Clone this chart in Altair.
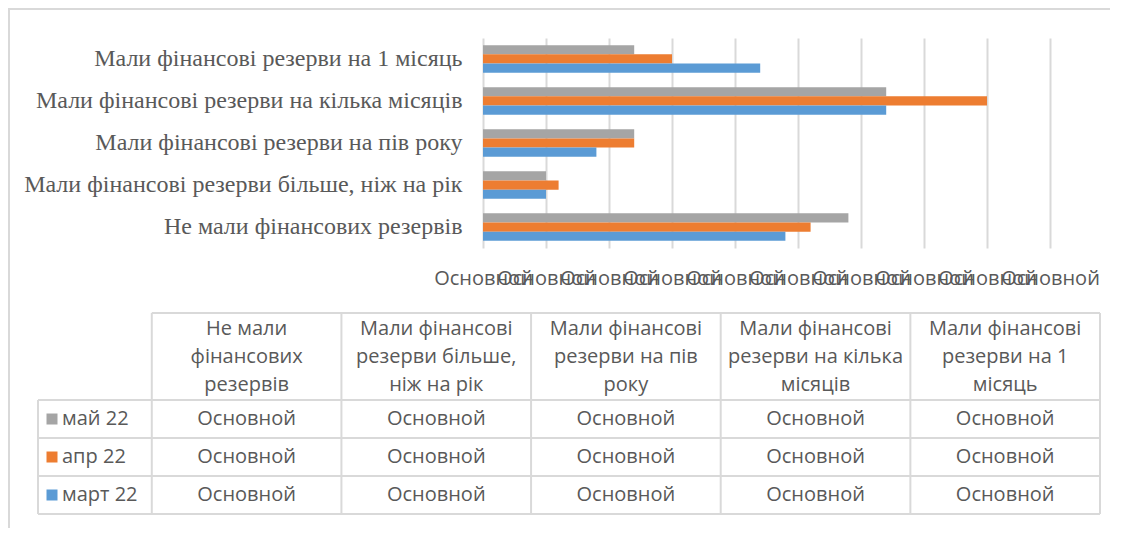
import altair as alt
import pandas as pd

# ---- data ----
categories = [
    "Мали фінансові резерви на 1 місяць",
    "Мали фінансові резерви на кілька місяців",
    "Мали фінансові резерви на пів року",
    "Мали фінансові резерви більше, ніж на рік",
    "Не мали фінансових резервів",
]
series = ["май 22", "апр 22", "март 22"]
may_22 = [12, 32, 12, 5, 29]
apr_22 = [15, 40, 12, 6, 26]
mar_22 = [22, 32, 9, 5, 24]
colors = ["#a5a5a5", "#ed7d31", "#5b9bd5"]
tick_values = [0, 5, 10, 15, 20, 25, 30, 35, 40, 45]
tick_label = "Основной"

# table columns (data-table order) with wrapped headers
table_categories = [
    "Не мали фінансових резервів",
    "Мали фінансові резерви більше, ніж на рік",
    "Мали фінансові резерви на пів року",
    "Мали фінансові резерви на кілька місяців",
    "Мали фінансові резерви на 1 місяць",
]
table_headers = [
    "Не мали\nфінансових\nрезервів",
    "Мали фінансові\nрезерви більше,\nніж на рік",
    "Мали фінансові\nрезерви на пів\nроку",
    "Мали фінансові\nрезерви на кілька\nмісяців",
    "Мали фінансові\nрезерви на 1\nмісяць",
]

TXT = "#595959"
GRID = "#d9d9d9"
SANS = "Open Sans"
SERIF = "Liberation Serif"

rows = []
for s, vals in zip(series, [may_22, apr_22, mar_22]):
    for c, v in zip(categories, vals):
        rows.append({"category": c, "series": s, "value": v})
bars_df = pd.DataFrame(rows)

bars = alt.Chart(bars_df).mark_bar().encode(
    y=alt.Y("category:N", sort=categories, title=None,
            scale=alt.Scale(paddingInner=0.345, paddingOuter=0.17),
            axis=alt.Axis(domain=False, ticks=False, labelFont=SERIF, labelFontSize=24,
                          labelColor=TXT, labelPadding=21, labelLimit=600)),
    yOffset=alt.YOffset("series:N", sort=series, scale=alt.Scale(paddingInner=0, paddingOuter=0)),
    x=alt.X("value:Q", title=None,
            scale=alt.Scale(domain=[0, 45], nice=False, zero=True),
            axis=alt.Axis(values=tick_values, labelExpr=f"'{tick_label}'", grid=True,
                          gridColor=GRID, gridWidth=2, domain=False, ticks=False,
                          labelFont=SANS, labelFontSize=20, labelColor=TXT,
                          labelPadding=20, labelOverlap=False, labelFlush=False)),
    color=alt.Color("series:N", sort=series, scale=alt.Scale(domain=series, range=colors), legend=None),
)

# ---- table ----
n_cols = len(table_categories)
n_rows = len(series)
first_w = 0.6
head_h = 2.29
xs = alt.Scale(domain=[-first_w, n_cols], range=[-445, 617], nice=False, zero=False)
ys = alt.Scale(domain=[-head_h, n_rows], range=[275, 476], nice=False, zero=False)

vrules = pd.DataFrame(
    [{"x": -first_w, "y": 0, "y2": n_rows}] +
    [{"x": i, "y": -head_h, "y2": n_rows} for i in range(n_cols + 1)]
)
hrules = pd.DataFrame(
    [{"y": -head_h, "x": 0, "x2": n_cols}] +
    [{"y": j, "x": -first_w, "x2": n_cols} for j in range(n_rows + 1)]
)
vr = alt.Chart(vrules).mark_rule(color=GRID, strokeWidth=2).encode(
    x=alt.X("x:Q", scale=xs, axis=None), y=alt.Y("y:Q", scale=ys, axis=None), y2="y2:Q")
hr = alt.Chart(hrules).mark_rule(color=GRID, strokeWidth=2).encode(
    y=alt.Y("y:Q", scale=ys, axis=None), x=alt.X("x:Q", scale=xs, axis=None), x2="x2:Q")

head_df = pd.DataFrame({"col": [i + 0.5 for i in range(n_cols)],
                        "row": [-head_h / 2] * n_cols, "text": table_headers})
head = alt.Chart(head_df).mark_text(font=SANS, fontSize=20, color=TXT, lineBreak="\n",
                                    lineHeight=28, align="center", baseline="middle",
                                    dy=-28).encode(
    x=alt.X("col:Q", scale=xs, axis=None), y=alt.Y("row:Q", scale=ys, axis=None), text="text:N")

cell_rows = []
for j, s in enumerate(series):
    for i, c in enumerate(table_categories):
        cell_rows.append({"col": i + 0.5, "row": j + 0.5, "text": tick_label})
cells = alt.Chart(pd.DataFrame(cell_rows)).mark_text(font=SANS, fontSize=20, color=TXT,
                                                      align="center", baseline="middle").encode(
    x=alt.X("col:Q", scale=xs, axis=None), y=alt.Y("row:Q", scale=ys, axis=None), text="text:N")

leg_df = pd.DataFrame({"col": [-first_w] * n_rows, "row": [j + 0.5 for j in range(n_rows)],
                       "series": series})
leg_sq = alt.Chart(leg_df).mark_square(size=121, opacity=1, xOffset=14).encode(
    x=alt.X("col:Q", scale=xs, axis=None), y=alt.Y("row:Q", scale=ys, axis=None),
    color=alt.Color("series:N", sort=series, scale=alt.Scale(domain=series, range=colors), legend=None))
leg_tx = alt.Chart(leg_df).mark_text(font=SANS, fontSize=20, color=TXT, align="left",
                                     baseline="middle", dx=24).encode(
    x=alt.X("col:Q", scale=xs, axis=None), y=alt.Y("row:Q", scale=ys, axis=None), text="series:N")

table = alt.layer(vr, hr, head, cells, leg_sq, leg_tx)

# chart-area frame
frame_df = pd.DataFrame({"k": [0]})
frame_left = alt.Chart(frame_df).mark_rule(color=GRID, strokeWidth=2).encode(
    x=alt.value(-474), y=alt.value(-29), y2=alt.value(500))
frame_top = alt.Chart(frame_df).mark_rule(color=GRID, strokeWidth=2).encode(
    x=alt.value(-475), x2=alt.value(640), y=alt.value(-29))

chart = alt.layer(frame_left, frame_top, bars, table).resolve_scale(
    x="independent", y="independent"
).properties(
    width=567, height=210,
    autosize=alt.AutoSizeParams(type="none"),
    padding={"left": 475, "top": 30, "right": 60, "bottom": 280},
).configure_view(stroke=None)

chart.save("out.html", embed_options={"renderer": "svg", "actions": False})
